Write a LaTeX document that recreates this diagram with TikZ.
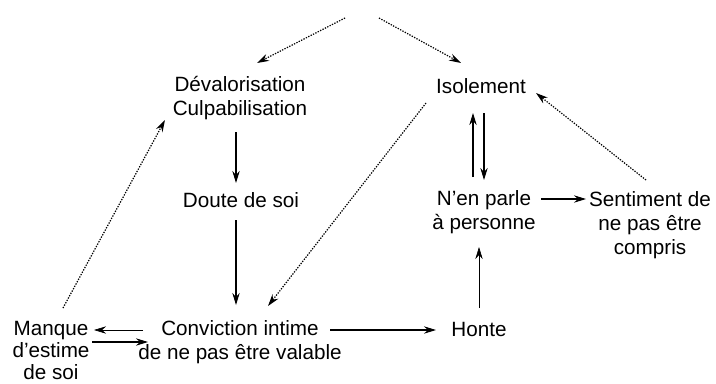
\documentclass[tikz,border=0pt]{standalone}
\usepackage{fontspec}
\setmainfont{Liberation Sans}
\usepackage{tikz}
\usetikzlibrary{arrows.meta,calc}

\begin{document}
\begin{tikzpicture}[x=0.75pt,y=0.75pt,yscale=-1,xscale=1,
  lbl/.style={inner sep=0.75pt,align=center,font=\fontsize{15.5}{18}\selectfont},
  plain/.style={line width=0.8pt,-{Stealth[length=9pt,width=5.5pt]}},
  dots/.style={line width=0.9pt,dash pattern={on 1pt off 1pt},-{Stealth[length=9pt,width=5.5pt]}}]
\useasboundingbox (0,0) rectangle (716,383);

% Text Node
\coordinate (top) at (362,9);
% Text Node
\node [lbl] (deval) at (240,98) {Dévalorisation\\Culpabilisation};
% Text Node
\node [lbl] (iso) at (481,86) {Isolement};
% Text Node
\node [lbl] (doute) at (241,200) {Doute de soi};
% Text Node
\node [lbl] (conv) at (240,342) {Conviction intime\\de ne pas être valable};
% Text Node
\node [lbl] (honte) at (479,329) {Honte};
% Text Node
\node [lbl] (parle) at (484,212) {N'en parle\\à personne};
% Text Node
\node [lbl] (sent) at (650,225) {Sentiment de\\ne pas être\\compris};
% Text Node
\node [lbl,font=\fontsize{15.5}{16.5}\selectfont] (manque) at (51,350) {Manque\\d'estime\\de soi};

%Straight Lines
\draw [dots] ($(top)+(-17,9)$) -- ($(deval)+(17,-35)$);
\draw [dots] ($(top)+(17,9)$) -- ($(iso)+(-20,-23)$);
%Straight Lines
\draw [plain] ($(deval)+(-4,34)$) -- ($(doute)+(-5,-17)$);
\draw [plain] ($(doute)+(-5,20)$) -- ($(conv)+(-4,-37)$);
\draw [dots] ($(iso)+(-55,17)$) -- ($(conv)+(28,-36)$);
%Straight Lines
\draw [plain] ($(conv)+(90,-12)$) -- ($(honte)+(-43,1)$);
\draw [plain,line width=0.5pt] ($(honte)+(0,-21)$) -- ($(parle)+(-5,35)$);
\draw [plain] ($(parle)+(57,-13)$) -- ($(sent)+(-64,-26)$);
\draw [dots] ($(sent)+(-4,-45)$) -- ($(iso)+(55,7)$);
%Straight Lines
\draw [plain] ($(parle)+(-11,-35)$) -- ($(iso)+(-8,27)$);
\draw [plain] ($(iso)+(3,27)$) -- ($(parle)+(0,-32)$);
%Straight Lines
\draw [dots] ($(manque)+(12,-42)$) -- ($(deval)+(-75,22)$);
\draw [plain,line width=0.5pt] ($(conv)+(-97,-12)$) -- ($(manque)+(43,-20)$);
\draw [plain] ($(manque)+(41,-8)$) -- ($(conv)+(-92,0)$);

\end{tikzpicture}
\end{document}
